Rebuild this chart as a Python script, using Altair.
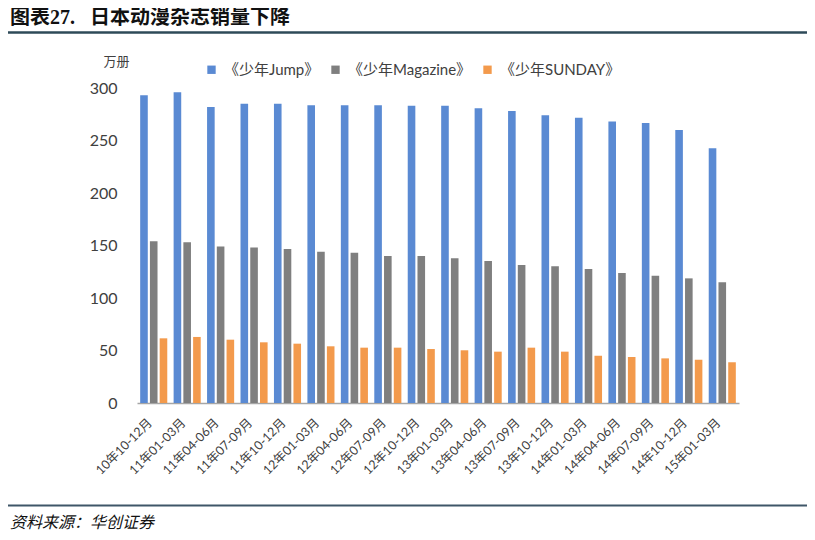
import altair as alt
import pandas as pd

categories = ["10年10-12月", "11年01-03月", "11年04-06月", "11年07-09月", "11年10-12月",
              "12年01-03月", "12年04-06月", "12年07-09月", "12年10-12月", "13年01-03月",
              "13年04-06月", "13年07-09月", "13年10-12月", "14年01-03月", "14年04-06月",
              "14年07-09月", "14年10-12月", "15年01-03月"]
series = ["《少年Jump》", "《少年Magazine》", "《少年SUNDAY》"]
jump = [293, 296, 282, 285, 285, 283.5, 283.5, 283.5, 283, 283, 280.6, 278, 274, 271.7, 268, 266.7, 260, 242.6]
magazine = [154, 153, 149, 148, 146.7, 144, 143, 140, 140, 137.8, 135.2, 131.4, 130.2, 127.6, 123.8, 121.2, 118.7, 115]
sunday = [61.6, 62.9, 60.3, 57.8, 56.5, 54, 52.7, 52.7, 51.4, 50.2, 48.9, 52.7, 48.9, 45, 43.8, 42.5, 41.2, 38.8]
colors = ["#5A8AD3", "#7F7F7F", "#F39A4C"]
y_ticks = [0, 50, 100, 150, 200, 250, 300]
title_text = "图表27.\u00a0\u00a0\u00a0日本动漫杂志销量下降"
source_text = "资料来源：华创证券"
unit_text = "万册"

rows = []
for s, vals in zip(series, [jump, magazine, sunday]):
    for c, v in zip(categories, vals):
        rows.append({"period": c, "series": s, "value": v})
df = pd.DataFrame(rows)

latin = "Lato, 'Noto Sans CJK SC', sans-serif"

bars = alt.Chart(df).mark_bar().encode(
    x=alt.X("period:N", sort=categories,
            scale=alt.Scale(paddingInner=0.19, paddingOuter=0.095),
            axis=alt.Axis(title=None, labelAngle=-45, labelAlign="right", labelBaseline="top",
                          labelFontSize=12.5, labelFont=latin, labelColor="#404040",
                          labelPadding=13, labelOffset=-8, ticks=False,
                          domainColor="#A6A6A6", domainWidth=1.5, labelOverlap=False)),
    xOffset=alt.XOffset("series:N", sort=series, scale=alt.Scale(paddingInner=0.22)),
    y=alt.Y("value:Q", scale=alt.Scale(domain=[0, 300], nice=False),
            axis=alt.Axis(values=y_ticks, title=unit_text, titleAngle=0, titleX=-21, titleY=-27,
                          titleAlign="center", titleBaseline="middle", titleFontSize=13,
                          titleFontWeight="normal", titleFont="'Noto Sans CJK SC'",
                          titleColor="#404040", domain=False, ticks=False, grid=False,
                          labelFontSize=16, labelFont=latin, labelColor="#404040",
                          labelPadding=20)),
    color=alt.Color("series:N", sort=series,
                    scale=alt.Scale(domain=series, range=colors),
                    legend=alt.Legend(title=None, orient="none", legendX=67, legendY=-26,
                                      direction="horizontal", symbolType="square",
                                      symbolSize=70, symbolStrokeWidth=0, labelFontSize=15,
                                      labelFont=latin, labelColor="#404040",
                                      columnPadding=8, labelOffset=5, padding=0)),
)

one = pd.DataFrame({"t": [title_text]})
title = alt.Chart(one).mark_text(align="left", baseline="alphabetic", fontSize=20,
                                 fontWeight="bold", font="'Liberation Serif', 'Noto Sans CJK SC'",
                                 color="#111111").encode(
    text="t:N", x=alt.value(-127), y=alt.value(-64))
top_rule = alt.Chart(one).mark_rule(color="#2E4A58", strokeWidth=2.5).encode(
    x=alt.value(-129), x2=alt.value(670), y=alt.value(-55.5))
bottom_rule = alt.Chart(one).mark_rule(color="#3F5668", strokeWidth=2).encode(
    x=alt.value(-129), x2=alt.value(670), y=alt.value(417.5))
src = pd.DataFrame({"t": [source_text]})
source = alt.Chart(src).mark_text(align="left", baseline="alphabetic", fontSize=16,
                                  fontStyle="italic", font="'Noto Sans CJK SC'",
                                  color="#111111").encode(
    text="t:N", x=alt.value(-127), y=alt.value(440))

chart = alt.layer(bars, title, top_rule, bottom_rule, source).properties(
    width=602, height=315,
    autosize=alt.AutoSizeParams(type="none"),
    padding={"left": 129, "top": 80, "right": 68, "bottom": 129},
).configure_view(stroke=None)

chart.save("out.html", embed_options={"renderer": "svg", "actions": False})
